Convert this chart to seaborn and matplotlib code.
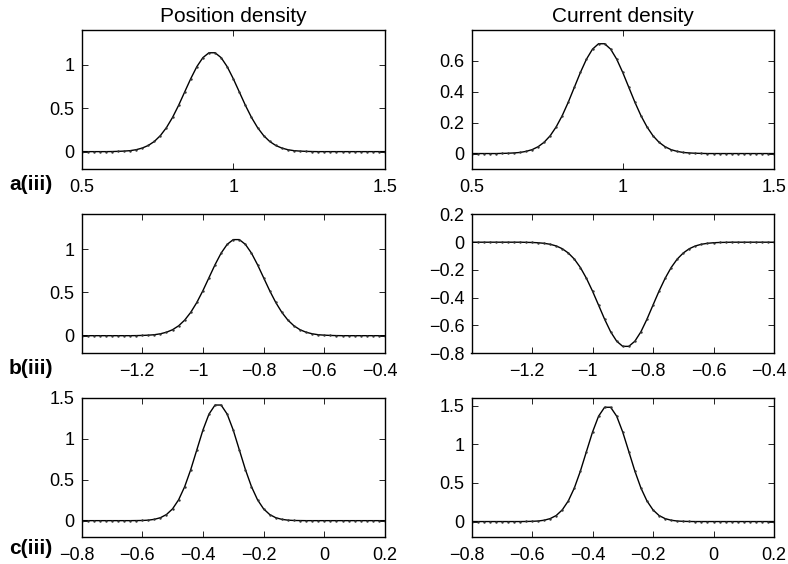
import numpy as np
import pandas as pd
import matplotlib
matplotlib.use("Agg")
import matplotlib.pyplot as plt
import matplotlib.transforms as mtransforms
from matplotlib.ticker import FuncFormatter
import seaborn as sns

# ---------------- data ----------------
x_a = [round(0.50 + 0.02 * k, 2) for k in range(51)]
x_b = [round(-1.40 + 0.02 * k, 2) for k in range(51)]
x_c = [round(-0.80 + 0.02 * k, 2) for k in range(51)]

pos_a = [0, 0, 0, 0, 0,
         0.001, 0.003, 0.006, 0.011, 0.022, 0.041, 0.071, 0.117, 0.185, 0.277,
         0.394, 0.533, 0.687, 0.840, 0.978, 1.082, 1.138, 1.138, 1.082, 0.978,
         0.840, 0.687, 0.533, 0.394, 0.277, 0.185, 0.117, 0.071, 0.041, 0.022,
         0.011, 0.006, 0.003, 0.001,
         0, 0, 0, 0, 0, 0, 0, 0, 0, 0, 0, 0]
cur_a = [0, 0, 0, 0, 0,
         0.001, 0.002, 0.004, 0.007, 0.014, 0.025, 0.044, 0.073, 0.115, 0.173,
         0.246, 0.333, 0.429, 0.525, 0.611, 0.676, 0.711, 0.711, 0.676, 0.611,
         0.525, 0.429, 0.333, 0.246, 0.173, 0.115, 0.073, 0.044, 0.025, 0.014,
         0.007, 0.004, 0.002, 0.001,
         0, 0, 0, 0, 0, 0, 0, 0, 0, 0, 0, 0]
pos_b = [0, 0, 0, 0, 0, 0, 0, 0, 0,
         0.001, 0.003, 0.006, 0.011, 0.022, 0.040, 0.069, 0.114, 0.180, 0.270,
         0.384, 0.520, 0.670, 0.820, 0.954, 1.055, 1.110, 1.110, 1.055, 0.954,
         0.820, 0.670, 0.520, 0.384, 0.270, 0.180, 0.114, 0.069, 0.040, 0.022,
         0.011, 0.006, 0.003, 0.001,
         0, 0, 0, 0, 0, 0, 0, 0]
cur_b = [0, 0, 0, 0, 0, 0, 0, 0, 0,
         -0.001, -0.002, -0.004, -0.008, -0.015, -0.027, -0.047, -0.078, -0.122, -0.183,
         -0.261, -0.353, -0.454, -0.556, -0.647, -0.715, -0.752, -0.752, -0.715, -0.647,
         -0.556, -0.454, -0.353, -0.261, -0.183, -0.122, -0.078, -0.047, -0.027, -0.015,
         -0.008, -0.004, -0.002, -0.001,
         0, 0, 0, 0, 0, 0, 0, 0]
pos_c = [0, 0, 0, 0, 0, 0, 0, 0, 0,
         0.001, 0.002, 0.006, 0.016, 0.036, 0.075, 0.144, 0.255, 0.416, 0.625,
         0.866, 1.107, 1.303, 1.414, 1.414, 1.303, 1.107, 0.866, 0.625, 0.416,
         0.255, 0.144, 0.075, 0.036, 0.016, 0.006, 0.002, 0.001,
         0, 0, 0, 0, 0, 0, 0, 0, 0, 0, 0, 0, 0, 0]
cur_c = [0, 0, 0, 0, 0, 0, 0, 0, 0,
         0.001, 0.003, 0.007, 0.017, 0.038, 0.078, 0.151, 0.267, 0.435, 0.654,
         0.907, 1.158, 1.364, 1.480, 1.480, 1.364, 1.158, 0.907, 0.654, 0.435,
         0.267, 0.151, 0.078, 0.038, 0.017, 0.007, 0.003, 0.001,
         0, 0, 0, 0, 0, 0, 0, 0, 0, 0, 0, 0, 0, 0]

col_titles = ["Position density", "Current density"]
row_labels = ["a(iii)", "b(iii)", "c(iii)"]

xlims = [(0.5, 1.5), (-1.4, -0.4), (-0.8, 0.2)]
xticks = [[0.5, 1, 1.5], [-1.2, -1, -0.8, -0.6, -0.4], [-0.8, -0.6, -0.4, -0.2, 0, 0.2]]
ylims = [[(-0.2, 1.4), (-0.1, 0.8)],
         [(-0.2, 1.4), (-0.8, 0.2)],
         [(-0.2, 1.5), (-0.2, 1.6)]]
yticks = [[[0, 0.5, 1], [0, 0.2, 0.4, 0.6]],
          [[0, 0.5, 1], [-0.8, -0.6, -0.4, -0.2, 0, 0.2]],
          [[0, 0.5, 1, 1.5], [0, 0.5, 1, 1.5]]]

xs = [x_a, x_b, x_c]
ys = [[pos_a, cur_a], [pos_b, cur_b], [pos_c, cur_c]]

# ---------------- style ----------------
sns.set_style("ticks")
plt.rcParams["font.family"] = ["Liberation Sans", "DejaVu Sans"]
plt.rcParams["xtick.direction"] = "in"
plt.rcParams["ytick.direction"] = "in"
plt.rcParams["text.color"] = "black"
plt.rcParams["axes.labelcolor"] = "black"
plt.rcParams["xtick.color"] = "black"
plt.rcParams["ytick.color"] = "black"
plt.rcParams["axes.edgecolor"] = "black"

W, H = 788, 564
fig = plt.figure(figsize=(W / 100, H / 100), dpi=100)

col_left = [81.5, 471.5]
col_width = [303.5, 302.5]
row_top = [30, 214.5, 398]
row_height = [139, 138.5, 139]


def fmt(v, _pos):
    s = f"{v:g}"
    return s.replace("-", "\u2212")


shift_left = mtransforms.ScaledTranslation(-5 / 100, 0, fig.dpi_scale_trans)

for r in range(3):
    for c in range(2):
        ax = fig.add_axes([col_left[c] / W,
                           1 - (row_top[r] + row_height[r]) / H,
                           col_width[c] / W,
                           row_height[r] / H])
        df = pd.DataFrame({"x": xs[r], "y": ys[r][c]})
        sns.lineplot(data=df, x="x", y="y", ax=ax, color="black", lw=1.0,
                     marker=".", markersize=3.5, markeredgewidth=0,
                     markerfacecolor="#333333")
        ax.set_xlim(*xlims[r])
        ax.set_ylim(*ylims[r][c])
        ax.set_xticks(xticks[r])
        ax.set_yticks(yticks[r][c])
        ax.xaxis.set_major_formatter(FuncFormatter(fmt))
        ax.yaxis.set_major_formatter(FuncFormatter(fmt))
        ax.tick_params(axis="both", which="major", labelsize=13, length=4,
                       width=0.6, top=True, right=True, color="black",
                       labelcolor="black")
        ax.tick_params(axis="x", pad=7)
        ax.tick_params(axis="y", pad=5)
        ax.set_xlabel("")
        ax.set_ylabel("")
        for sp in ax.spines.values():
            sp.set_visible(True)
            sp.set_linewidth(1.0)
            sp.set_color("black")
        if r == 0:
            ax.set_title(col_titles[c], fontsize=15, pad=6, color="black")
        # MATLAB-style: negative x labels sit a little left of their tick
        for val, lab in zip(xticks[r], ax.get_xticklabels()):
            if val < 0:
                lab.set_transform(lab.get_transform() + shift_left)

label_y = [185, 368, 549]
for r in range(3):
    fig.text(9 / W, 1 - label_y[r] / H, row_labels[r], fontsize=15,
             fontweight="bold", ha="left", va="center", color="black")

fig.savefig("out.png", dpi=100)
